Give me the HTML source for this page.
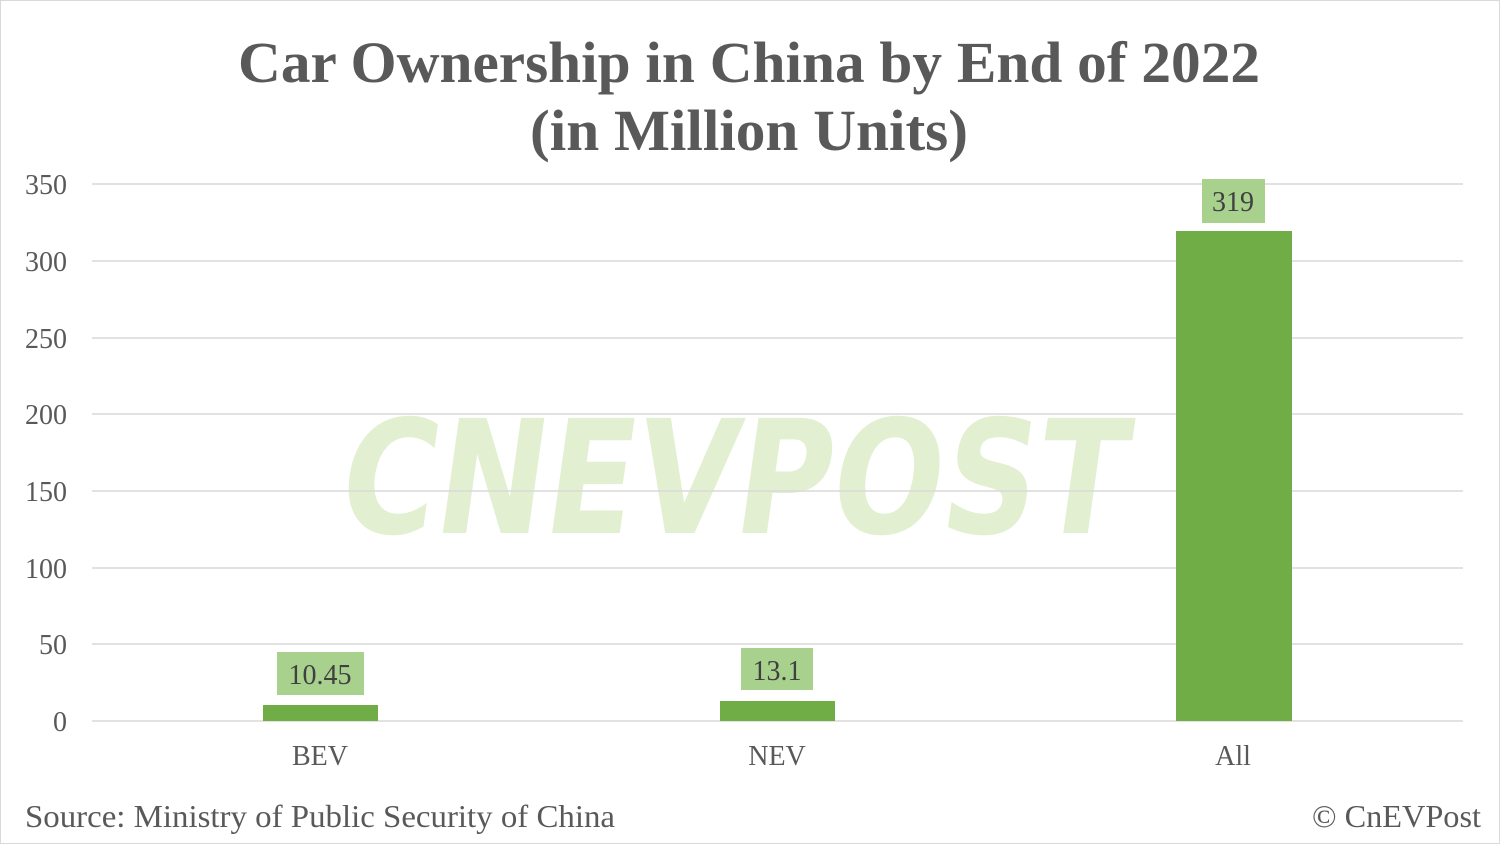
<!DOCTYPE html>
<html><head><meta charset="utf-8"><style>
html,body{margin:0;padding:0;background:#fff;}
svg{display:block}
</style></head><body>
<svg width="1500" height="844" viewBox="0 0 1500 844" xmlns="http://www.w3.org/2000/svg" font-family="Liberation Serif, serif">
<rect x="0.5" y="0.5" width="1499" height="843" fill="#fff" stroke="#d9d9d9"/>
<text x="238" y="82" font-size="58" font-weight="bold" fill="#595959" textLength="1022" lengthAdjust="spacingAndGlyphs">Car Ownership in China by End of 2022</text>
<text x="530" y="150" font-size="58" font-weight="bold" fill="#595959" textLength="438" lengthAdjust="spacingAndGlyphs">(in Million Units)</text>
<g transform="skewX(-8)">
<text x="410" y="533" font-family="DejaVu Sans, sans-serif" font-weight="bold" font-size="158" fill="#e2efd0" textLength="785" lengthAdjust="spacingAndGlyphs">CNEVPOST</text>
</g>
<g stroke="#d9d9d9" stroke-width="1.5">
<line x1="92" x2="1463" y1="184" y2="184"/>
<line x1="92" x2="1463" y1="261" y2="261"/>
<line x1="92" x2="1463" y1="338" y2="338"/>
<line x1="92" x2="1463" y1="414" y2="414"/>
<line x1="92" x2="1463" y1="491" y2="491"/>
<line x1="92" x2="1463" y1="568" y2="568"/>
<line x1="92" x2="1463" y1="644" y2="644"/>
<line x1="92" x2="1463" y1="721" y2="721"/>
</g>
<g font-size="28" fill="#595959" text-anchor="end">
<text x="67" y="194">350</text><text x="67" y="271">300</text><text x="67" y="348">250</text>
<text x="67" y="424">200</text><text x="67" y="501">150</text><text x="67" y="578">100</text>
<text x="67" y="654">50</text><text x="67" y="731">0</text>
</g>
<g fill="#70ad47">
<rect x="263" y="705" width="115" height="16"/>
<rect x="720" y="701" width="115" height="20"/>
<rect x="1176" y="231" width="116" height="490"/>
</g>
<g fill="#a9d18e">
<rect x="277" y="652" width="87" height="43"/>
<rect x="741" y="648" width="72" height="42"/>
<rect x="1202" y="179" width="63" height="44"/>
</g>
<g font-size="28" fill="#404040" text-anchor="middle">
<text x="320" y="684">10.45</text>
<text x="777" y="680">13.1</text>
<text x="1233" y="211">319</text>
</g>
<g font-size="28" fill="#595959" text-anchor="middle">
<text x="320" y="765">BEV</text><text x="777" y="765">NEV</text><text x="1233" y="765">All</text>
</g>
<text x="25" y="827" font-size="32" fill="#595959" textLength="590" lengthAdjust="spacingAndGlyphs">Source: Ministry of Public Security of China</text>
<text x="1312" y="827" font-size="32" fill="#595959" textLength="169" lengthAdjust="spacingAndGlyphs">© CnEVPost</text>
</svg>
</body></html>
